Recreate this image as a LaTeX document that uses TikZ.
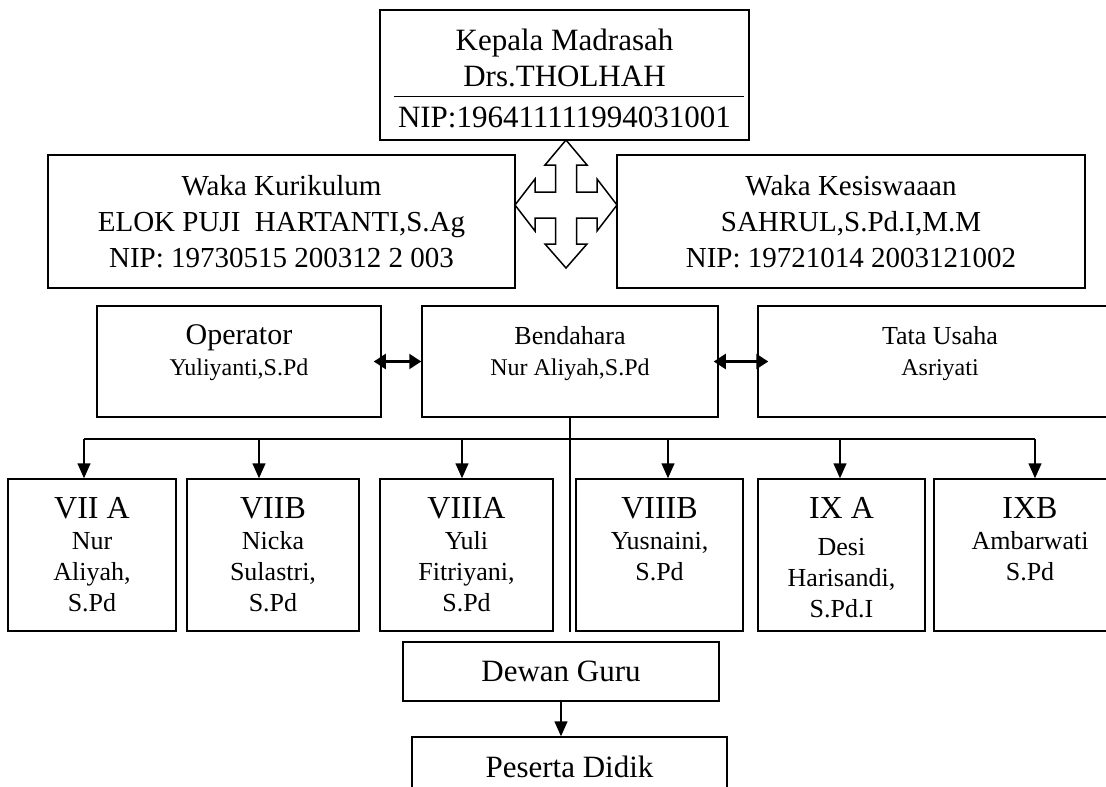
\documentclass[tikz,border=0pt]{standalone}
\usepackage{fontspec}
\setmainfont{Liberation Serif}
\usepackage{tikz}
\usetikzlibrary{positioning, arrows.meta, calc}
\tikzstyle{unit} = [rectangle, minimum width=3cm, minimum height=1cm, text centered, align=center, inner sep=0pt, draw=black, line width=1.5pt]
\tikzstyle{teks} = [align=center, inner sep=0pt, font=\fontsize{26}{31}\selectfont]
\tikzstyle{arrow} = [line width=1.5pt, -{Triangle[length=15pt,width=13pt]}]
\tikzstyle{dblarrow} = [line width=2.2pt, {Triangle[length=12pt,width=15pt]}-{Triangle[length=12pt,width=15pt]}]

\begin{document}
\begin{tikzpicture}[x=1pt, y=-1pt, node distance=1cm]
\useasboundingbox (0,0) rectangle (1106,787);
\clip (0,0) rectangle (1106,787);

% kepala madrasah
\node (kepala) [unit, minimum width=369pt, minimum height=130pt] at (564.5,75) {};
\node (kepalateks) [teks, font=\fontsize{31}{36}\selectfont, yshift=-3.5pt] at (kepala) {Kepala Madrasah\\Drs.THOLHAH\\[5pt]NIP:196411111994031001};
\draw [line width=1.5pt] ($(kepala.north west)+(15,87)$) -- ($(kepala.north east)+(-6,87)$);

% waka
\node (kurikulum) [unit, minimum width=467pt, minimum height=133pt, font=\fontsize{29}{36}\selectfont] at (281.5,221.5) {Waka Kurikulum\\ELOK PUJI\ \ HARTANTI,S.Ag\\NIP: 19730515 200312 2 003};
\node (kesiswaan) [unit, minimum width=468pt, minimum height=133pt, font=\fontsize{29}{36}\selectfont] at (851,221.5) {Waka Kesiswaaan\\SAHRUL,S.Pd.I,M.M\\NIP: 19721014 2003121002};

% panah empat arah
\draw [line width=1.5pt, shift={(566,205)}] (0,-65) -- (21,-40) -- (10.5,-40) -- (10.5,-13) -- (31,-13) -- (31,-26) -- (51,0) -- (31,26) -- (31,13) -- (10.5,13) -- (10.5,39) -- (21,39) -- (0,63) -- (-21,39) -- (-10.5,39) -- (-10.5,13) -- (-31,13) -- (-31,26) -- (-51,0) -- (-31,-26) -- (-31,-13) -- (-10.5,-13) -- (-10.5,-40) -- (-21,-40) -- cycle;

% operator, bendahara, tata usaha
\node (operator) [unit, minimum width=284pt, minimum height=111pt] at (239,361.5) {};
\node (bendahara) [unit, minimum width=296pt, minimum height=111pt] at (570,361.5) {};
\node (tatausaha) [unit, minimum width=364pt, minimum height=111pt] at (940,361.5) {};
\node (operatorteks) [teks, font=\fontsize{24}{31}\selectfont, below=19pt of operator.north] {{\fontsize{30}{30}\selectfont Operator}\\Yuliyanti,S.Pd};
\node (bendaharateks) [teks, font=\fontsize{24}{31}\selectfont, below=21pt of bendahara.north] {{\fontsize{26}{26}\selectfont Bendahara}\\Nur Aliyah,S.Pd};
\node (tatausahateks) [teks, font=\fontsize{24}{31}\selectfont, below=21pt of tatausaha.north] {{\fontsize{26}{26}\selectfont Tata Usaha}\\Asriyati};

\draw [dblarrow] ([xshift=-8pt]operator.east) -- (bendahara.west);
\draw [dblarrow] ([xshift=-5pt]bendahara.east) -- ([xshift=11pt]tatausaha.west);

% kelas
\node (k7a) [unit, minimum width=168pt, minimum height=152pt] at (92,555) {};
\node (k7b) [unit, minimum width=172pt, minimum height=152pt] at (273,555) {};
\node (k8a) [unit, minimum width=173pt, minimum height=152pt] at (466.5,555) {};
\node (k8b) [unit, minimum width=167pt, minimum height=152pt] at (659.5,555) {};
\node (k9a) [unit, minimum width=167pt, minimum height=152pt] at (841.5,555) {};
\node (k9b) [unit, minimum width=192pt, minimum height=152pt] at (1030,555) {};
\node (k7ateks) [teks, below=19pt of k7a.north] {{\fontsize{32}{32}\selectfont VII A}\\Nur\\Aliyah,\\S.Pd};
\node (k7bteks) [teks, below=19pt of k7b.north] {{\fontsize{32}{32}\selectfont VIIB}\\Nicka\\Sulastri,\\S.Pd};
\node (k8ateks) [teks, below=19pt of k8a.north] {{\fontsize{32}{32}\selectfont VIIIA}\\Yuli\\Fitriyani,\\S.Pd};
\node (k8bteks) [teks, below=19pt of k8b.north] {{\fontsize{32}{32}\selectfont VIIIB}\\Yusnaini,\\S.Pd};
\node (k9ateks) [teks, below=19pt of k9a.north] {{\fontsize{32}{32}\selectfont IX A}\\[6pt]Desi\\Harisandi,\\S.Pd.I};
\node (k9bteks) [teks, below=19pt of k9b.north] {{\fontsize{32}{32}\selectfont IXB}\\Ambarwati\\S.Pd};

\foreach \x [count=\i] in {84,259,462,668,840,1035}
  \coordinate (bus\i) at (\x,439);
\draw [line width=1.5pt] (bus1) -- (bus6);
\foreach \i/\n in {1/k7a,2/k7b,3/k8a,4/k8b,5/k9a,6/k9b}
  \draw [arrow] (bus\i) -- (bus\i |- \n.north);
\draw [line width=1.5pt] (bendahara.south) -- (bendahara.south |- k8a.south);

% dewan guru, peserta didik
\node (dewan) [unit, minimum width=316pt, minimum height=59pt, font=\fontsize{31}{31}\selectfont] at (561,671.5) {Dewan Guru};
\node (peserta) [unit, minimum width=315pt, minimum height=60pt, font=\fontsize{31}{31}\selectfont] at (569.5,767) {Peserta Didik};
\draw [arrow] (dewan.south) -- (dewan.south |- peserta.north);

\end{tikzpicture}
\end{document}
